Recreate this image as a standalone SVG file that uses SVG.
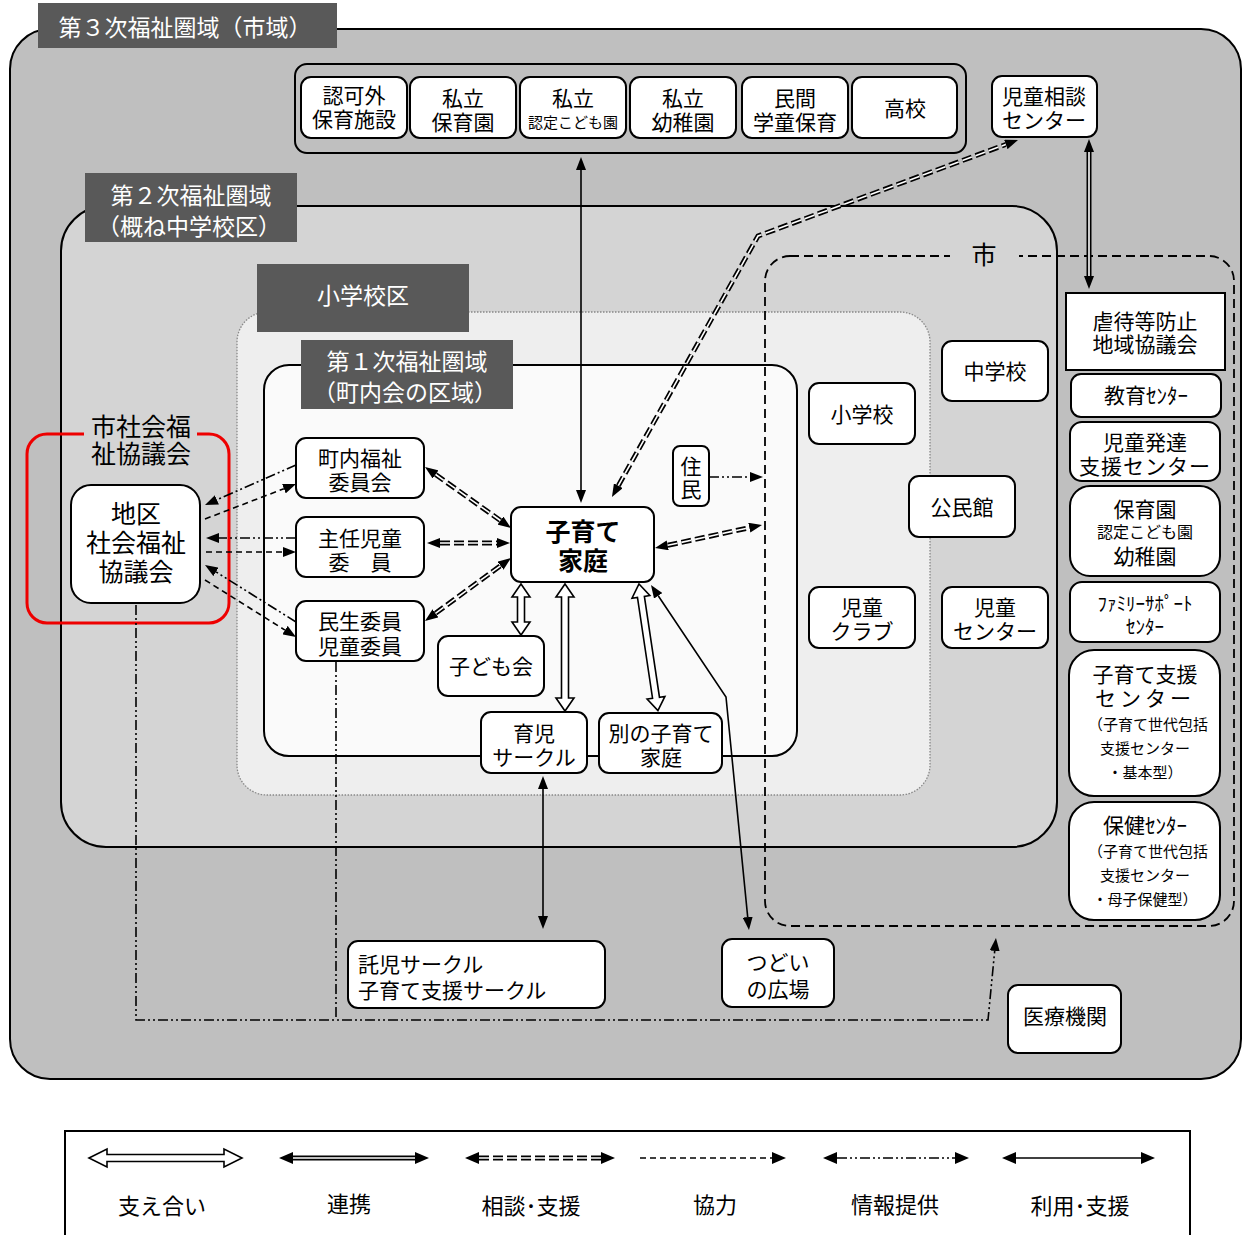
<svg xmlns="http://www.w3.org/2000/svg" width="1244" height="1235" viewBox="0 0 1244 1235">
<defs>
<style>
.t{font-family:'Noto Sans CJK JP','Noto Sans CJK SC',sans-serif;text-anchor:middle;dominant-baseline:central;fill:#000;font-size:21px}
.lt{fill:#fff;font-size:23px}
.lbl{fill:#595959}
.n{fill:#fff;stroke:#000;stroke-width:2}
.reg{stroke:#000;stroke-width:2}
.solid{stroke:#000;stroke-width:1.6;fill:none}
.dd{stroke:#000;stroke-width:5;stroke-dasharray:10 4;fill:none}
.ddw{stroke:#fff;stroke-width:1.6;stroke-dasharray:10 4;fill:none}
.dbl{stroke:#000;stroke-width:5;fill:none}
.dblw{stroke:#fff;stroke-width:1.6;fill:none}
.dash{stroke:#000;stroke-width:1.6;stroke-dasharray:6 4;fill:none}
.ddot{stroke:#000;stroke-width:1.6;stroke-dasharray:10 3 2 3 2 3;fill:none}
.hollow{fill:#fff;stroke:#000;stroke-width:1.6}
.s15{font-size:15px}
</style>
<marker id="a" viewBox="0 0 13 10" refX="0" refY="5" markerWidth="13" markerHeight="10" markerUnits="userSpaceOnUse" orient="auto-start-reverse"><path d="M0,0 L13,5 L0,10 z" fill="#000"/></marker>
<marker id="aL" viewBox="0 0 14 12" refX="0" refY="6" markerWidth="14" markerHeight="12" markerUnits="userSpaceOnUse" orient="auto-start-reverse"><path d="M0,0 L14,6 L0,12 z" fill="#000"/></marker>
</defs>
<rect width="1244" height="1235" fill="#fff"/>

<g id="regions">
<rect class="reg" x="10" y="29" width="1231" height="1050" rx="40" fill="#bfbfbf"/>
<rect class="reg" x="295" y="64" width="671" height="89" rx="12" fill="#bfbfbf"/>
<rect class="reg" x="61" y="206" width="996" height="641" rx="45" fill="#d4d4d4"/>
<rect x="237" y="312" width="693" height="483" rx="30" fill="#eeeeee" stroke="#888" stroke-width="1.3" stroke-dasharray="1.5 1.5"/>
<rect class="reg" x="264" y="365" width="533" height="391" rx="25" fill="#fafafa"/>
<rect x="765" y="256" width="469" height="670" rx="25" fill="none" stroke="#000" stroke-width="1.8" stroke-dasharray="9 5"/>
<rect x="27" y="434" width="202" height="189" rx="20" fill="none" stroke="#ee0000" stroke-width="3"/>
</g>

<g id="region-labels">
<rect class="lbl" x="38" y="3" width="299" height="45"/>
<text class="t lt" x="185" y="26">第３次福祉圏域（市域）</text>
<rect class="lbl" x="85" y="173" width="212" height="69"/>
<text class="t lt"><tspan x="191" y="194">第２次福祉圏域</tspan><tspan x="189" y="225">（概ね中学校区）</tspan></text>
<rect class="lbl" x="257" y="264" width="212" height="68"/>
<text class="t lt" x="363" y="294">小学校区</text>
<rect class="lbl" x="301" y="340" width="212" height="69"/>
<text class="t lt"><tspan x="407" y="360">第１次福祉圏域</tspan><tspan x="405" y="391">（町内会の区域）</tspan></text>
<rect x="950" y="235" width="69" height="41" fill="#d4d4d4"/>
<text class="t" x="984" y="253" style="font-size:25px">市</text>
<rect x="84" y="410" width="113" height="58" fill="#d4d4d4"/>
<text class="t" style="font-size:25px"><tspan x="141" y="425">市社会福</tspan><tspan x="141" y="452">祉協議会</tspan></text>
</g>

<g id="connectors">
<line class="solid" x1="581" y1="170" x2="581" y2="490" marker-start="url(#a)" marker-end="url(#a)"/>
<path class="dd" d="M618.3,485.7 L758,236 L1005.8,144.5" marker-start="url(#a)" marker-end="url(#a)"/>
<path class="ddw" d="M618.3,485.7 L758,236 L1005.8,144.5"/>
<line class="dbl" x1="1089" y1="152" x2="1089" y2="276" marker-start="url(#a)" marker-end="url(#a)"/>
<line class="dblw" x1="1089" y1="152" x2="1089" y2="276"/>
<line class="dd" x1="435.6" y1="474.5" x2="500.4" y2="520.5" marker-start="url(#a)" marker-end="url(#a)"/>
<line class="ddw" x1="435.6" y1="474.5" x2="500.4" y2="520.5"/>
<line class="dd" x1="440" y1="543" x2="497" y2="543" marker-start="url(#a)" marker-end="url(#a)"/>
<line class="ddw" x1="440" y1="543" x2="497" y2="543"/>
<line class="dd" x1="435.5" y1="613.3" x2="500.5" y2="565.7" marker-start="url(#a)" marker-end="url(#a)"/>
<line class="ddw" x1="435.5" y1="613.3" x2="500.5" y2="565.7"/>
<line class="dd" x1="667.7" y1="545.3" x2="749.3" y2="527.7" marker-start="url(#a)" marker-end="url(#a)"/>
<line class="ddw" x1="667.7" y1="545.3" x2="749.3" y2="527.7"/>
<line class="ddot" x1="709" y1="477" x2="750" y2="477" marker-end="url(#a)"/>
<path class="hollow" transform="translate(521,584) rotate(90)" d="M0,0 L13,-9 L13,-3.5 L38,-3.5 L38,-9 L51,0 L38,9 L38,3.5 L13,3.5 L13,9 Z"/>
<path class="hollow" transform="translate(565,584) rotate(90)" d="M0,0 L13,-9 L13,-3.5 L114,-3.5 L114,-9 L127,0 L114,9 L114,3.5 L13,3.5 L13,9 Z"/>
<path class="hollow" transform="translate(639,584) rotate(81.5)" d="M0,0 L13,-9 L13,-3.5 L115,-3.5 L115,-9 L128,0 L115,9 L115,3.5 L13,3.5 L13,9 Z"/>
<path class="solid" d="M658.2,595.8 L726,697 L747.7,917.1" marker-start="url(#a)" marker-end="url(#a)"/>
<line class="solid" x1="543" y1="789" x2="543" y2="916" marker-start="url(#a)" marker-end="url(#a)"/>
<line class="ddot" x1="296" y1="465" x2="216.9" y2="499.8" marker-end="url(#a)"/>
<line class="dash" x1="205" y1="519" x2="283.9" y2="488.7" marker-end="url(#a)"/>
<line class="ddot" x1="296" y1="538" x2="219" y2="538" marker-end="url(#a)"/>
<line class="dash" x1="206" y1="552" x2="283" y2="552" marker-end="url(#a)"/>
<line class="ddot" x1="296" y1="622" x2="216" y2="571.9" marker-end="url(#a)"/>
<line class="dash" x1="205" y1="580" x2="285" y2="630.1" marker-end="url(#a)"/>
<path class="ddot" d="M136,605 V1020 H988 L994.7,950.9" marker-end="url(#a)"/>
<path class="ddot" d="M336,662 V1020"/>
</g>

<g id="n-ninkagai"><rect class="n" x="301" y="77" width="106" height="61" rx="10"/><text class="t"><tspan x="354" y="94">認可外</tspan><tspan x="354" y="118">保育施設</tspan></text></g>
<g id="n-shiritsu-hoikuen"><rect class="n" x="410" y="77" width="106" height="61" rx="10"/><text class="t"><tspan x="463" y="97">私立</tspan><tspan x="463" y="121">保育園</tspan></text></g>
<g id="n-shiritsu-nintei"><rect class="n" x="520" y="77" width="106" height="61" rx="10"/><text class="t"><tspan x="573" y="97">私立</tspan><tspan x="573" y="121" style="font-size:15px">認定こども園</tspan></text></g>
<g id="n-shiritsu-youchien"><rect class="n" x="630" y="77" width="106" height="61" rx="10"/><text class="t"><tspan x="683" y="97">私立</tspan><tspan x="683" y="121">幼稚園</tspan></text></g>
<g id="n-minkan"><rect class="n" x="742" y="77" width="106" height="61" rx="10"/><text class="t"><tspan x="795" y="97">民間</tspan><tspan x="795" y="121">学童保育</tspan></text></g>
<g id="n-koukou"><rect class="n" x="852" y="77" width="105" height="61" rx="10"/><text class="t" x="905" y="107">高校</text></g>
<g id="n-jidousoudan"><rect class="n" x="992" y="76" width="105" height="61" rx="10"/><text class="t"><tspan x="1044" y="95">児童相談</tspan><tspan x="1044" y="119">センター</tspan></text></g>

<g id="n-chiku"><rect class="n" x="71" y="485" width="129" height="118" rx="20"/><text class="t" style="font-size:25px"><tspan x="136" y="512">地区</tspan><tspan x="136" y="541">社会福祉</tspan><tspan x="136" y="570">協議会</tspan></text></g>
<g id="n-chounai"><rect class="n" x="296" y="438" width="128" height="60" rx="10"/><text class="t"><tspan x="360" y="457">町内福祉</tspan><tspan x="360" y="481">委員会</tspan></text></g>
<g id="n-shunin"><rect class="n" x="296" y="517" width="128" height="60" rx="10"/><text class="t"><tspan x="360" y="537">主任児童</tspan><tspan x="360" y="561">委　員</tspan></text></g>
<g id="n-minsei"><rect class="n" x="296" y="601" width="128" height="60" rx="10"/><text class="t"><tspan x="360" y="620">民生委員</tspan><tspan x="360" y="645">児童委員</tspan></text></g>
<g id="n-kosodate"><rect class="n" x="511" y="507" width="143" height="75" rx="10"/><text class="t" style="font-size:25px;font-weight:bold"><tspan x="583" y="530">子育て</tspan><tspan x="583" y="559">家庭</tspan></text></g>
<g id="n-juumin"><rect class="n" x="673" y="446" width="36" height="60" rx="7"/><text class="t"><tspan x="691" y="465">住</tspan><tspan x="691" y="488">民</tspan></text></g>
<g id="n-kodomokai"><rect class="n" x="438" y="636" width="106" height="60" rx="10"/><text class="t" x="491" y="665">子ども会</text></g>
<g id="n-ikuji"><rect class="n" x="481" y="712" width="106" height="61" rx="10"/><text class="t"><tspan x="534" y="732">育児</tspan><tspan x="534" y="756">サークル</tspan></text></g>
<g id="n-betsu"><rect class="n" x="599" y="713" width="123" height="60" rx="10"/><text class="t"><tspan x="661" y="732">別の子育て</tspan><tspan x="661" y="756">家庭</tspan></text></g>
<g id="n-shougakkou"><rect class="n" x="809" y="383" width="106" height="61" rx="10"/><text class="t" x="862" y="413">小学校</text></g>
<g id="n-chuugakkou"><rect class="n" x="942" y="341" width="106" height="60" rx="10"/><text class="t" x="995" y="370">中学校</text></g>
<g id="n-kouminkan"><rect class="n" x="909" y="476" width="106" height="61" rx="10"/><text class="t" x="962" y="506">公民館</text></g>
<g id="n-jidouclub"><rect class="n" x="809" y="587" width="106" height="61" rx="10"/><text class="t"><tspan x="862" y="606">児童</tspan><tspan x="862" y="630">クラブ</tspan></text></g>
<g id="n-jidoucenter"><rect class="n" x="942" y="587" width="106" height="61" rx="10"/><text class="t"><tspan x="995" y="606">児童</tspan><tspan x="995" y="630">センター</tspan></text></g>

<g id="n-gyakutai"><rect class="n" x="1066" y="293" width="159" height="77"/><text class="t"><tspan x="1145" y="320">虐待等防止</tspan><tspan x="1145" y="343">地域協議会</tspan></text></g>
<g id="n-kyouiku"><rect class="n" x="1071" y="374" width="150" height="43" rx="10"/><text class="t" x="1146" y="394">教育ｾﾝﾀｰ</text></g>
<g id="n-jidouhattatsu"><rect class="n" x="1070" y="422" width="150" height="59" rx="12"/><text class="t"><tspan x="1145" y="441">児童発達</tspan><tspan x="1145" y="465" style="letter-spacing:1px">支援センター</tspan></text></g>
<g id="n-hoikuen"><rect class="n" x="1070" y="486" width="150" height="90" rx="20"/><text class="t"><tspan x="1145" y="508">保育園</tspan><tspan x="1145" y="531" style="font-size:16px">認定こども園</tspan><tspan x="1145" y="555">幼稚園</tspan></text></g>
<g id="n-family"><rect class="n" x="1070" y="582" width="150" height="60" rx="12"/><text class="t" style="font-size:19px"><tspan x="1145" y="602">ﾌｧﾐﾘｰｻﾎﾟｰﾄ</tspan><tspan x="1145" y="625">ｾﾝﾀｰ</tspan></text></g>
<g id="n-kosodateshien"><rect class="n" x="1069" y="650" width="151" height="146" rx="25"/><text class="t"><tspan x="1145" y="673">子育て支援</tspan><tspan x="1145" y="697" style="letter-spacing:4px">センター</tspan><tspan class="s15" x="1148" y="723">（子育て世代包括</tspan><tspan class="s15" x="1145" y="747">支援センター</tspan><tspan class="s15" x="1145" y="771">・基本型）</tspan></text></g>
<g id="n-hoken"><rect class="n" x="1069" y="802" width="151" height="118" rx="25"/><text class="t"><tspan x="1145" y="824">保健ｾﾝﾀｰ</tspan><tspan class="s15" x="1148" y="850">（子育て世代包括</tspan><tspan class="s15" x="1145" y="874">支援センター</tspan><tspan class="s15" x="1145" y="898">・母子保健型）</tspan></text></g>

<g id="n-takuji"><rect class="n" x="348" y="941" width="257" height="67" rx="10"/><text class="t" style="text-anchor:start"><tspan x="358" y="963">託児サークル</tspan><tspan x="358" y="989">子育て支援サークル</tspan></text></g>
<g id="n-tsudoi"><rect class="n" x="722" y="939" width="112" height="68" rx="10"/><text class="t"><tspan x="778" y="961">つどい</tspan><tspan x="778" y="988">の広場</tspan></text></g>
<g id="n-iryou"><rect class="n" x="1008" y="985" width="113" height="68" rx="10"/><text class="t" x="1065" y="1015">医療機関</text></g>

<g id="legend">
<rect x="65" y="1131" width="1125" height="130" fill="#fff" stroke="#000" stroke-width="2"/>
<path class="hollow" transform="translate(89,1158)" d="M0,0 L18,-9 L18,-3.5 L135,-3.5 L135,-9 L153,0 L135,9 L135,3.5 L18,3.5 L18,9 Z"/>
<line class="dbl" x1="293" y1="1158" x2="415" y2="1158" marker-start="url(#aL)" marker-end="url(#aL)"/>
<line class="dblw" x1="293" y1="1158" x2="415" y2="1158"/>
<line class="dd" x1="479" y1="1158" x2="601" y2="1158" marker-start="url(#aL)" marker-end="url(#aL)"/>
<line class="ddw" x1="479" y1="1158" x2="601" y2="1158"/>
<line class="dash" x1="640" y1="1158" x2="772" y2="1158" marker-end="url(#aL)"/>
<line class="ddot" x1="837" y1="1158" x2="955" y2="1158" marker-start="url(#aL)" marker-end="url(#aL)"/>
<line class="solid" x1="1016" y1="1158" x2="1141" y2="1158" marker-start="url(#aL)" marker-end="url(#aL)"/>
<text class="t" x="162" y="1204" style="font-size:22px">支え合い</text>
<text class="t" x="349" y="1202" style="font-size:22px">連携</text>
<text class="t" x="531" y="1204" style="font-size:22px">相談･支援</text>
<text class="t" x="715" y="1203" style="font-size:22px">協力</text>
<text class="t" x="895" y="1203" style="font-size:22px">情報提供</text>
<text class="t" x="1080" y="1204" style="font-size:22px">利用･支援</text>
</g>
</svg>
